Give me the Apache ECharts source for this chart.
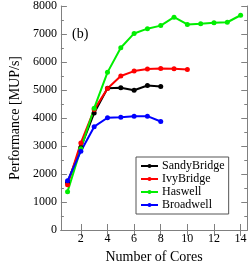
<!DOCTYPE html>
<html><head><meta charset="utf-8">
<script src="https://cdn.jsdelivr.net/npm/echarts@6/dist/echarts.min.js"></script>
<style>html,body{margin:0;padding:0;background:#fff}#c{width:249px;height:269px}</style>
</head><body><div id="c"></div>
<script>
var sandyX = [1,2,3,4,5,6,7,8];
var sandyY = [1700,2950,4180,5060,5080,4990,5160,5125];
var ivyX = [1,2,3,4,5,6,7,8,9,10];
var ivyY = [1620,3110,4300,5050,5500,5675,5750,5765,5760,5730];
var hasX = [1,2,3,4,5,6,7,8,9,10,11,12,13,14];
var hasY = [1370,2900,4350,5630,6510,7020,7190,7300,7600,7340,7365,7400,7420,7670];
var broX = [1,2,3,4,5,6,7,8];
var broY = [1757,2815,3690,4010,4030,4060,4065,3875];
var xTicks = [2,4,6,8,10,12,14];
var names = ['SandyBridge','IvyBridge','Haswell','Broadwell'];
var colors = ['#000000','#ff0000','#00ee00','#0000ff'];

function pairs(xs, ys){ return xs.map(function(x,i){return [x, ys[i]];}); }
var FONT = 'Liberation Serif';
var axisLineC = '#808080';
var chart = echarts.init(document.getElementById('c'));
var sets = [[sandyX,sandyY],[ivyX,ivyY],[hasX,hasY],[broX,broY]];
var series = sets.map(function(s,i){
  return {name:names[i], type:'line', data:pairs(s[0],s[1]), xAxisIndex:0, yAxisIndex:0,
    symbol:'circle', symbolSize:5, lineStyle:{width:2,color:colors[i]}, itemStyle:{color:colors[i]},
    emphasis:{disabled:true}, animation:false};
});
chart.setOption({
  animation:false,
  textStyle:{fontFamily:FONT},
  grid:{left:44,right:1,top:5,bottom:27,containLabel:false},
  xAxis:[
    {type:'value',min:0.5,max:14.5,position:'bottom',
     axisLine:{lineStyle:{color:axisLineC,width:1}},
     axisTick:{inside:true,length:6,customValues:xTicks,lineStyle:{color:axisLineC}},
     axisLabel:{customValues:xTicks,color:'#000',fontFamily:FONT,fontSize:12,margin:3},
     splitLine:{show:false},
     name:'Number of Cores',nameLocation:'middle',nameGap:20,
     nameTextStyle:{fontFamily:FONT,fontSize:14,color:'#000'}},
    {type:'value',min:0.5,max:14.5,position:'top',
     axisLine:{lineStyle:{color:axisLineC,width:1}},
     axisTick:{inside:true,length:6,customValues:xTicks,lineStyle:{color:axisLineC}},
     axisLabel:{show:false},splitLine:{show:false}}
  ],
  yAxis:[
    {type:'value',min:0,max:8000,interval:1000,position:'left',
     axisLine:{show:true,lineStyle:{color:axisLineC,width:1}},
     axisTick:{show:true,inside:true,length:6,lineStyle:{color:axisLineC}},
     minorTick:{show:true,splitNumber:2,length:3,lineStyle:{color:axisLineC}},
     axisLabel:{color:'#000',fontFamily:FONT,fontSize:12,margin:4,formatter:function(v){return String(v);}},
     splitLine:{show:false},
     name:'Performance [MUP/s]',nameLocation:'middle',nameGap:35,
     nameTextStyle:{fontFamily:FONT,fontSize:14,color:'#000'}},
    {type:'value',min:0,max:8000,interval:1000,position:'right',
     axisLine:{show:true,lineStyle:{color:axisLineC,width:1}},
     axisTick:{show:true,inside:true,length:6,lineStyle:{color:axisLineC}},
     minorTick:{show:true,splitNumber:2,length:3,lineStyle:{color:axisLineC}},
     axisLabel:{show:false},splitLine:{show:false}}
  ],
  legend:{show:true,left:136,top:157,orient:'vertical',
    padding:[3,4,3,4],itemGap:1,itemWidth:17,itemHeight:5,
    borderColor:'#555',borderWidth:1,backgroundColor:'#fff',
    textStyle:{fontFamily:FONT,fontSize:12,color:'#000',padding:[0,0,0,-1]},
    data:names},
  graphic:[{type:'text',left:72,top:27,style:{text:'(b)',fontFamily:FONT,fontSize:14,fill:'#000'}}],
  series:series
});
</script></body></html>
